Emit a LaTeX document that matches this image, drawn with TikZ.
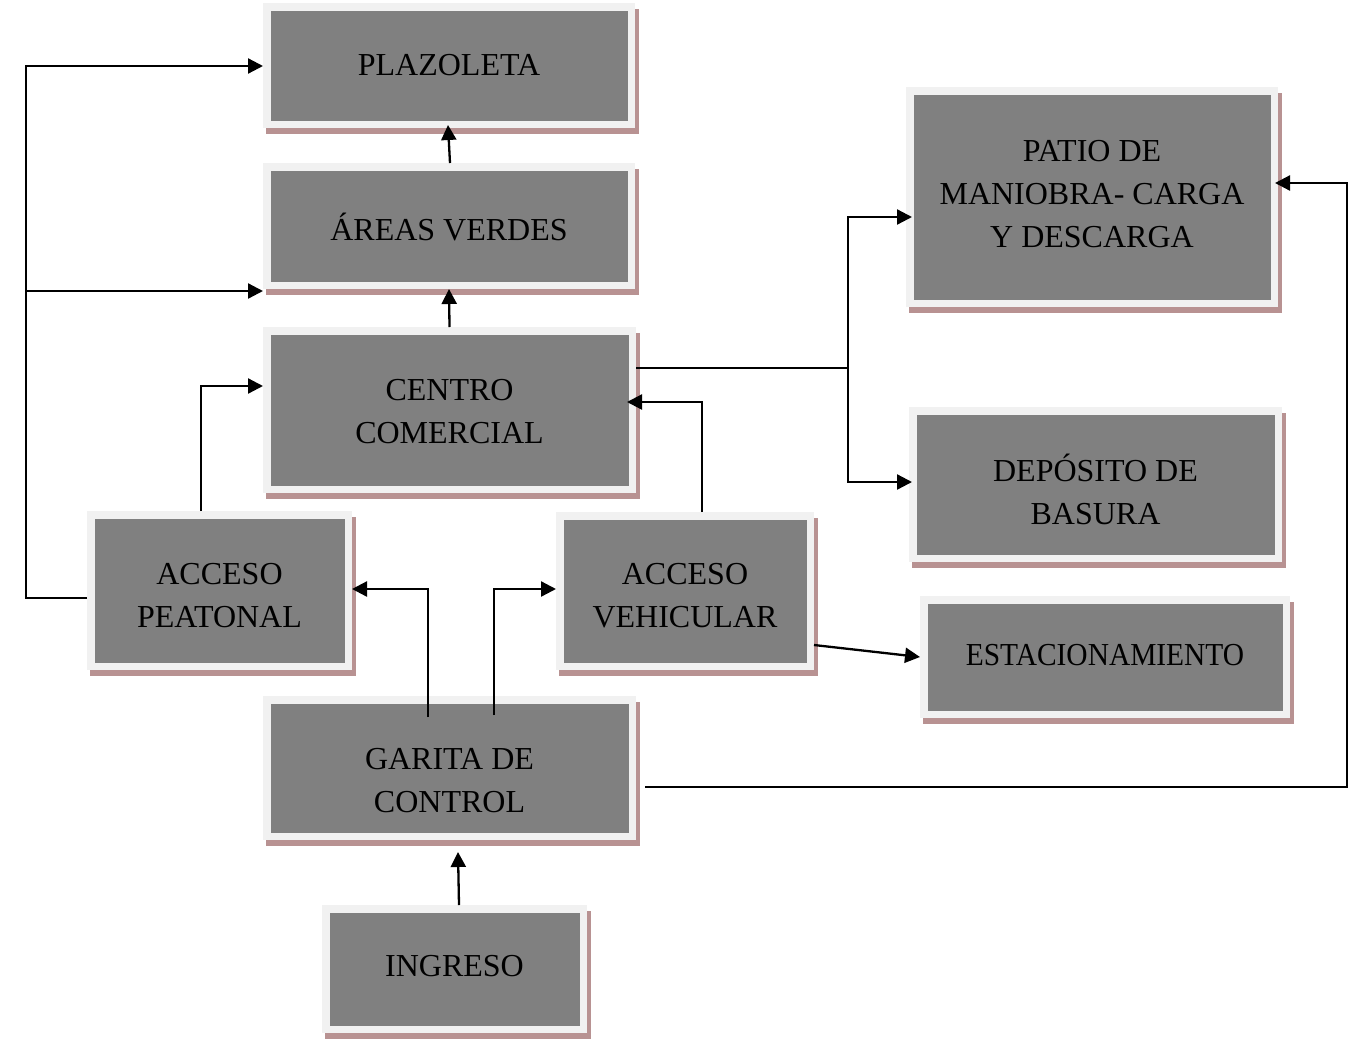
\documentclass[tikz,border=0pt]{standalone}
\usepackage{fontspec}
\setmainfont{Liberation Serif}
\usetikzlibrary{arrows.meta,calc}

\definecolor{framec}{RGB}{241,241,241}
\definecolor{innerc}{RGB}{128,128,128}
\definecolor{shadowc}{RGB}{184,146,146}

\tikzset{
  blk/.style={draw=framec, fill=innerc, line width=7.5pt, inner sep=0pt, rectangle},
  lbl/.style={font=\fontsize{32}{43}\selectfont, align=center, text=black, inner sep=0pt},
  arr/.style={draw=black, line width=2.3pt, line join=miter, -{Triangle[length=15pt,width=15pt]}},
  wire/.style={draw=black, line width=2.3pt, line join=miter}
}

% \blk{name}{left}{top}{right}{bottom}{text offset}{text}
\newcommand\blk[7]{%
  \fill[shadowc] ({#2+3},{#3+6}) rectangle ({#4+3.5},{#5+6});
  \node[blk, minimum width={(#4-#2-7.5)*1pt}, minimum height={(#5-#3-7.5)*1pt}]
    (#1) at ({(#2+#4)/2},{(#3+#5)/2}) {};
  \node[lbl] (#1-t) at ($(#1.center)+(0,#6)$) {#7};
}

\begin{document}
\begin{tikzpicture}[x=1pt, y=-1pt]
\fill[white] (0,0) rectangle (1360,1039);
\useasboundingbox (0,0) rectangle (1360,1039);

% blocks
\blk{plaz}{263}{3}{635}{128}{0}{PLAZOLETA}
\blk{areas}{263}{163}{635}{289}{1}{ÁREAS VERDES}
\blk{centro}{263}{327}{636}{493}{2}{CENTRO\\COMERCIAL}
\blk{patio}{906}{87}{1278}{307}{-3}{PATIO DE\\MANIOBRA- CARGA\\Y DESCARGA}
\blk{depos}{909}{407}{1282}{562}{5}{DEPÓSITO DE\\BASURA}
\blk{estac}{920}{596}{1290}{718}{-2}{\scalebox{0.92}[1]{ESTACIONAMIENTO}}
\blk{peat}{87}{511}{352}{670}{5}{ACCESO\\PEATONAL}
\blk{vehic}{556}{512}{814}{670}{5}{ACCESO\\VEHICULAR}
\blk{garita}{263}{696}{636}{840}{13}{GARITA DE\\CONTROL}
\blk{ingreso}{322}{905}{587}{1033}{-3}{INGRESO}

% junction points
\coordinate (jl) at (26,291);
\coordinate (jr) at (848,368);

% left bus: pedestrian access to plaza and green areas
\draw[arr] (peat.west |- 0,598) -- (26,598) -- (26,66) -- (plaz.west |- 0,66);
\draw[arr] (jl) -- (areas.west |- 0,291);

% vertical chain
\draw[arr] (450,0 |- areas.north) -- ($(448,0 |- plaz.south)+(0,-3)$);
\draw[arr] (centro.north) -- (areas.south);

% accesses to commercial centre
\draw[arr] (201,0 |- peat.north) -- (201,386) -- (centro.west |- 0,386);
\draw[arr] (702,0 |- vehic.north) -- (702,402) -- ($(centro.east |- 0,402)+(-9,0)$);

% commercial centre to service areas
\draw[wire] (centro.east |- 0,368) -- (jr);
\draw[arr] (jr) |- ($(patio.west |- 0,217)+(6,0)$);
\draw[arr] (jr) |- ($(depos.west |- 0,482)+(3,0)$);

% control booth
\draw[arr] ($(garita.east |- 0,787)+(9,0)$) -- (1347,787) -- (1347,183) -- ($(patio.east |- 0,183)+(-3,0)$);
\draw[arr] ($(428,0 |- garita.north)+(0,21)$) -- (428,589) -- (peat.east |- 0,589);
\draw[arr] ($(494,0 |- garita.north)+(0,19)$) -- (494,589) -- (vehic.west |- 0,589);
\draw[arr] (vehic.east |- 0,645) -- (estac.west |- 0,657);
\draw[arr] (459,0 |- ingreso.north) -- ($(458,0 |- garita.south)+(0,12)$);
\end{tikzpicture}
\end{document}
